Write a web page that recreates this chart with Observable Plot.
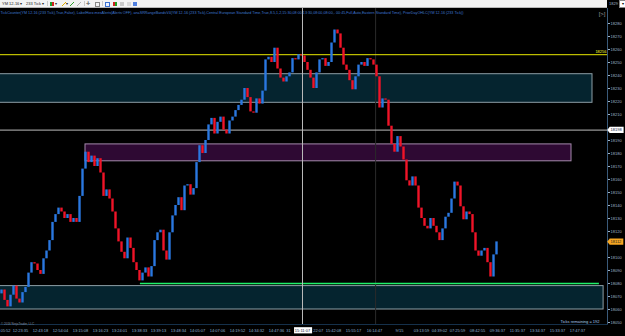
<!DOCTYPE html>
<html><head><meta charset="utf-8">
<script src="https://cdn.jsdelivr.net/npm/d3@7"></script>
<script src="https://cdn.jsdelivr.net/npm/@observablehq/plot@0.6"></script>
<style>
html,body{margin:0;padding:0;background:#000;width:625px;height:336px;overflow:hidden;font-family:"Liberation Sans",Arial,sans-serif;}
#tb{position:relative;height:8px;width:625px;background:#000;}
#tbw{position:absolute;left:0;top:0;width:607px;height:7px;background:#f3f3f3;border-bottom:1px solid #b8b8b8;}
.t{position:absolute;top:1px;font-size:4px;line-height:5px;color:#222;white-space:nowrap;}
.ic{position:absolute;top:1.5px;width:4px;height:4px;}
.sep{position:absolute;top:1px;width:1px;height:5px;background:#c8c8c8;}
#chart{display:block;}
</style></head><body>
<div id="tb">
  <div id="tbw">
    <span class="t" style="left:2px">YM 12-16 ▾</span>
    <span class="t" style="left:26px">233 Tick ▾</span>
    <div class="sep" style="left:47px"></div>
    <div class="ic" style="left:50px;background:linear-gradient(90deg,#1a9a2a 50%,#d02020 50%)"></div>
    <span class="t" style="left:55px">▾</span>
    <div class="ic" style="left:62px;background:linear-gradient(135deg,transparent 40%,#e0b000 40%,#e0b000 60%,transparent 60%)"></div>
    <span class="t" style="left:66px">▾</span>
    <div class="ic" style="left:70px;background:linear-gradient(135deg,transparent 40%,#30a030 40%,#30a030 60%,transparent 60%)"></div>
    <div class="ic" style="left:77px;background:linear-gradient(135deg,transparent 40%,#b0b0b0 40%,#b0b0b0 60%,transparent 60%)"></div>
    <div class="sep" style="left:84px"></div>
    <span class="t" style="left:86px;font-size:5px">✛</span>
    <div class="ic" style="left:95px;border:0.5px solid #888;width:3px;height:3px"></div>
    <div class="sep" style="left:102px"></div>
    <div class="ic" style="left:105px;border:0.6px solid #3a70d0;background:#e8f0ff;width:3px;height:3px"></div>
    <div class="ic" style="left:113px;background:linear-gradient(90deg,#d02020 50%,#20a020 50%)"></div>
    <div class="ic" style="left:120px;background:#c8c8c8"></div>
    <div class="ic" style="left:127px;background:#d8d8d8"></div>
    <div class="ic" style="left:133px;background:#5080e0"></div>
  </div>
  <span class="t" style="left:609px;color:#9fb4c8;top:0.5px">1829</span>
  <div style="position:absolute;left:619px;top:0;width:5px;height:6px;background:#fff;border:0.5px solid #888;font-size:4px;line-height:6px;text-align:center;color:#000">▾</div>
</div>
<div id="chart"></div>
<script>
// ---- data ----
const firstOpen = 18072;
const closes = [
18075,18067,18062,18071,18078,18068,18065,18073,18077,18088,
18096,18095,18090,18087,18099,18105,18113,18127,18133,18138,
18135,18130,18133,18127,18130,18127,18147,18168,18181,18173,
18178,18170,18176,18165,18147,18152,18145,18135,18122,18112,
18104,18099,18115,18107,18096,18090,18082,18088,18092,18085,
18093,18113,18119,18121,18105,18098,18119,18132,18140,18146,
18136,18155,18156,18148,18153,18173,18186,18180,18190,18202,
18207,18195,18204,18208,18198,18195,18205,18208,18213,18217,
18221,18230,18223,18212,18211,18222,18218,18228,18252,18254,
18250,18261,18245,18238,18235,18239,18242,18253,18252,18256,
18255,18250,18244,18238,18230,18242,18252,18253,18247,18250,
18265,18275,18272,18261,18248,18244,18236,18229,18239,18248,
18250,18247,18253,18252,18248,18239,18215,18222,18221,18201,
18187,18181,18193,18185,18175,18159,18155,18162,18155,18138,
18130,18124,18122,18130,18124,18119,18113,18122,18131,18134,
18145,18158,18155,18139,18129,18135,18133,18119,18105,18101,
18105,18107,18096,18085,18102,18112
];
// 18110 and 18200 sit under the last-price and crosshair price boxes
const yTicks = [18050,18060,18070,18080,18090,18100,18120,18130,18140,18150,18160,18170,18180,18190,18210,18220,18230,18240,18250,18260,18270,18280];
const xTickLabels = ["05:52","12:23:35","12:43:18","12:54:04","13:15:08","13:16:23","13:24:01","13:38:33","13:39:13","13:48:34","14:05:07","14:07:06","14:19:52","14:34:32","14:47:36","31","22:07","15:42:08","15:55:17","16:14:47","9/15","03:13:59","04:39:02","07:25:59","08:42:55","09:36:37","11:35:37","13:34:37","15:33:37","17:47:37"];
const xTickBars = [1.33,6.33,13,19.67,26.33,33,39.33,46,52.33,59,65.33,72,78.67,85,91.67,95.67,105.6,110.67,117.33,124.33,132.67,140,146,152,158.67,165.33,172,178.67,185.33,192];
const demandZoneLow = [18219, 18060];
const demandZoneHigh = [18241, 18078];
const demandZoneStart = [-1, -1];
const demandZoneEnd = [197, 200.7];
const supplyZoneLow = [18174];
const supplyZoneHigh = [18187];
const supplyZoneStart = [28];
const supplyZoneEnd = [190];
const priorDayHigh = 18256;
const supportLevel = 18080, supportStart = 46.3, supportEnd = 199.3;
const crosshairBar = 100.33, crosshairPrice = 18198, crosshairTime = "15:11:07";
const sessionBreakBar = 124.7;
const lastPrice = 18112;
const titleText = "TickCounter(YM 12-16 (233 Tick),True,False), LabelHorz.mesAlerts(Alerts OFF), anaSRRangeBandsV4(YM 12-16 (233 Tick),Central European Standard Time,True,8.5,1,2,15:30,08:00,13:30,08:00,08:00,- 00:45,Full,Auto,Eastern Standard Time), PriorDayOHLC(YM 12-16 (233 Tick))";

// ---- build tables ----
const bars = closes.map((c, i) => ({i, open: i === 0 ? firstOpen : closes[i - 1], close: c}));
const demand = demandZoneLow.map((l, k) => ({low: l, high: demandZoneHigh[k], start: demandZoneStart[k], end: demandZoneEnd[k]}));
const supply = supplyZoneLow.map((l, k) => ({low: l, high: supplyZoneHigh[k], start: supplyZoneStart[k], end: supplyZoneEnd[k]}));
const xLabels = xTickLabels.map((t, k) => ({i: xTickBars[k], label: t}));

const chart = Plot.plot({
  width: 625, height: 328,
  marginLeft: 0, marginRight: 18, marginTop: 0, marginBottom: 12,
  style: {background: "#000", color: "#9fb4c8", fontFamily: "Liberation Sans, Arial, sans-serif", overflow: "visible"},
  x: {domain: [-1/3, 202], axis: null},
  y: {domain: [18048.46, 18291.54]},
  marks: [
    Plot.rect(demand, {x1: "start", x2: "end", y1: "low", y2: "high", fill: "#05242f", stroke: "#8d9ea6", strokeWidth: 1}),
    Plot.rect(supply, {x1: "start", x2: "end", y1: "low", y2: "high", fill: "#2e0933", stroke: "#a58aad", strokeWidth: 1}),
    Plot.ruleX([{x: sessionBreakBar}], {x: "x", stroke: "#2b2b2b"}),
    Plot.ruleY([{y: priorDayHigh}], {y: "y", stroke: "#e8e800", strokeWidth: 1}),
    Plot.ruleY([{y: crosshairPrice}], {y: "y", stroke: "#bcbcbc", strokeWidth: 1}),
    Plot.ruleY([{y: supportLevel, x1: supportStart, x2: supportEnd}], {y: "y", x1: "x1", x2: "x2", stroke: "#1ef06a", strokeWidth: 1.5}),
    Plot.ruleX(bars, {x: "i", y1: "open", y2: "close", stroke: d => d.close >= d.open ? "#2a78e0" : "#f01428", strokeWidth: 2.4}),
    Plot.ruleX([{x: crosshairBar}], {x: "x", stroke: "#bcbcbc", strokeWidth: 1}),
    Plot.frame({anchor: "right", stroke: "#3a5a7a"}),
    Plot.frame({anchor: "bottom", stroke: "#15304a"}),
    Plot.axisY({anchor: "right", ticks: yTicks, tickSize: 2, tickPadding: 1, fontSize: 4, tickFormat: d => String(d), color: "#9fb4c8"}),
    Plot.text([titleText], {text: d => d, frameAnchor: "top-left", textAnchor: "start", lineAnchor: "middle", dy: 4, fill: "#3f78d0", fontSize: 4}),
    Plot.text(["[>]"], {text: d => d, frameAnchor: "top-right", textAnchor: "end", lineAnchor: "middle", dx: -2, dy: 6, fill: "#9a9a9a", fontSize: 6}),
    Plot.text([{y: priorDayHigh}], {y: "y", text: d => String(d.y), frameAnchor: "right", textAnchor: "end", dx: -1, dy: -2.5, fill: "#ffff30", fontSize: 4}),
    Plot.text(xLabels, {x: "i", text: "label", frameAnchor: "bottom", lineAnchor: "middle", dy: 6, fill: "#8fb0cf", fontSize: 4}),
    Plot.text([{x: crosshairBar, t: crosshairTime}], {x: "x", text: "t", frameAnchor: "bottom", lineAnchor: "middle", dy: 6, fill: "#102040", fontSize: 4}),
    Plot.text([{y: crosshairPrice}], {y: "y", text: d => String(d.y), frameAnchor: "right", textAnchor: "start", dx: 3, fill: "#102040", fontSize: 4}),
    Plot.text([{y: lastPrice}], {y: "y", text: d => String(d.y), frameAnchor: "right", textAnchor: "start", dx: 3, fill: "#1a1a1a", fontSize: 4}),
    Plot.text(["Ticks remaining = 192"], {text: d => d, frameAnchor: "bottom-right", textAnchor: "end", lineAnchor: "middle", dx: -8, dy: -3, fill: "#a8cdee", fontSize: 4}),
    Plot.text(["© 2016 NinjaTrader, LLC"], {text: d => d, frameAnchor: "bottom-left", textAnchor: "start", lineAnchor: "middle", dx: 0.5, dy: -0.5, fill: "#8090a4", fontSize: 3})
  ]
});
document.getElementById("chart").appendChild(chart);

// label boxes behind the crosshair and last-price labels
const ns = "http://www.w3.org/2000/svg";
function boxOne(el, fill, arrow) {
  if (!el) return;
  const b = el.getBBox();
  const p = document.createElementNS(ns, "path");
  const x0 = b.x - 0.8, x1 = b.x + b.width + 1.2, y0 = b.y - 0.6, y1 = b.y + b.height + 0.6;
  p.setAttribute("d", arrow ? `M${x0 - 2.5},${(y0 + y1) / 2}L${x0},${y0}H${x1}V${y1}H${x0}Z` : `M${x0},${y0}H${x1}V${y1}H${x0}Z`);
  p.setAttribute("fill", fill);
  const tr = el.getAttribute("transform");
  if (tr) p.setAttribute("transform", tr);
  el.parentNode.insertBefore(p, el);
}
let tTime = null, tCross = null, tLast = null;
d3.select(chart).selectAll("text").each(function(){
  const g = this.parentNode;
  const f = (this.getAttribute("fill") || (g && g.getAttribute("fill")) || "");
  if (this.textContent === crosshairTime) tTime = this;
  if (this.textContent === String(crosshairPrice) && f === "#102040") tCross = this;
  if (this.textContent === String(lastPrice) && f === "#1a1a1a") tLast = this;
  if (this.textContent.startsWith("TickCounter")) {
    this.setAttribute("textLength", 463);
    this.setAttribute("lengthAdjust", "spacingAndGlyphs");
  }
});
boxOne(tTime, "#ffffff", false);
boxOne(tCross, "#ffffff", true);
boxOne(tLast, "#f5a623", true);
</script>
</body></html>
